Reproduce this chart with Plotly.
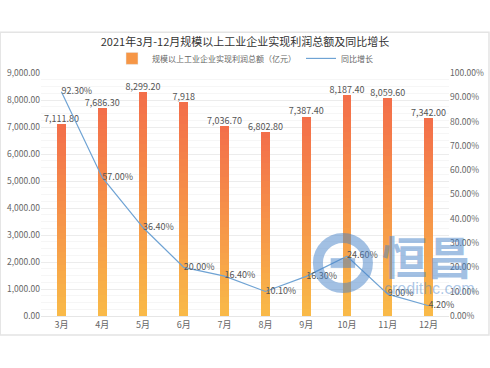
import plotly.graph_objects as go

months = ["3月", "4月", "5月", "6月", "7月", "8月", "9月", "10月", "11月", "12月"]
profit = [7111.80, 7686.30, 8299.20, 7918, 7036.70, 6802.80, 7387.40, 8187.40, 8059.60, 7342.00]
profit_labels = ["7,111.80", "7,686.30", "8,299.20", "7,918", "7,036.70", "6,802.80",
                 "7,387.40", "8,187.40", "8,059.60", "7,342.00"]
growth = [92.30, 57.00, 36.40, 20.00, 16.40, 10.10, 16.30, 24.60, 9.00, 4.20]
growth_labels = ["92.30%", "57.00%", "36.40%", "20.00%", "16.40%", "10.10%",
                 "16.30%", "24.60%", "9.00%", "4.20%"]

title = "2021年3月-12月规模以上工业企业实现利润总额及同比增长"
bar_name = "规模以上工业企业实现利润总额（亿元）"
line_name = "同比增长"

FONT = "Noto Sans CJK SC"
bottom_rgb = (249, 186, 72)
top_rgb = (243, 110, 74)
N = 30
WM = "rgba(70,130,200,0.5)"

fig = go.Figure()
for i in range(N):
    t = (i + 0.5) / N
    c = tuple(round(bottom_rgb[k] + (top_rgb[k] - bottom_rgb[k]) * t) for k in range(3))
    fig.add_trace(go.Bar(
        x=months, y=[v / N for v in profit],
        marker=dict(color="rgb(%d,%d,%d)" % c, line=dict(width=0)),
        showlegend=False, hoverinfo="skip",
    ))

# legend proxy for bars
fig.add_trace(go.Bar(x=[None], y=[None], name=bar_name,
                     marker=dict(color="rgb(246,150,70)"), showlegend=True))

# bar value labels
fig.add_trace(go.Scatter(
    x=months, y=profit, mode="text", text=profit_labels,
    textposition="top center", textfont=dict(size=9, color="#555", family=FONT),
    showlegend=False, hoverinfo="skip", cliponaxis=False,
))

fig.add_trace(go.Scatter(
    x=months, y=growth, yaxis="y2", name=line_name,
    mode="lines+text", text=growth_labels, textposition="middle right",
    textfont=dict(size=9, color="#555", family=FONT),
    line=dict(color="#6fa3d4", width=1.2), cliponaxis=False,
))

cx, cy = 0.740, 0.218
fig.update_layout(
    width=490, height=368,
    margin=dict(l=41, r=41, t=73, b=52, autoexpand=False),
    paper_bgcolor="white", plot_bgcolor="white",
    barmode="stack", bargap=0.78,
    font=dict(family=FONT, size=9, color="#666"),
    title=dict(text=title, x=0.5, xanchor="center", y=0.885, yanchor="middle",
               font=dict(size=11, color="#333", family=FONT)),
    legend=dict(orientation="h", x=0.5, xanchor="center", y=1.06, yanchor="middle",
                font=dict(size=8, color="#666", family=FONT), bgcolor="rgba(0,0,0,0)",
                itemwidth=30, traceorder="normal"),
    xaxis=dict(showgrid=False, showline=True, linecolor="#e6e6e6", ticks="",
               automargin=False, tickfont=dict(size=9, color="#666")),
    yaxis=dict(range=[0, 9000], dtick=1000, tickformat=",.2f", showgrid=True,
               gridcolor="#ececec", zeroline=False, ticks="", automargin=False,
               tickfont=dict(size=8.5, color="#666"),
               minor=dict(dtick=250, showgrid=True, gridcolor="#f6f6f6")),
    yaxis2=dict(range=[0, 100], dtick=10, overlaying="y", side="right",
                tickformat=".2f", ticksuffix="%", showgrid=False, zeroline=False,
                automargin=False, tickfont=dict(size=8.5, color="#666")),
    shapes=[
        dict(type="rect", xref="paper", yref="paper", x0=-0.1, x1=1.098,
             y0=-0.078, y1=1.168, line=dict(color="#e4e4e4", width=1.5),
             fillcolor="rgba(0,0,0,0)", layer="below"),
        dict(type="circle", xref="paper", yref="paper", x0=cx - 0.0613, x1=cx + 0.0613,
             y0=cy - 0.103, y1=cy + 0.103,
             line=dict(color=WM, width=10), layer="above"),
        dict(type="rect", xref="paper", yref="paper", x0=cx - 0.03, x1=cx + 0.03,
             y0=cy - 0.02, y1=cy + 0.02, line=dict(width=0), fillcolor=WM, layer="above"),
    ],
    annotations=[
        dict(text="<b>恒昌</b>", x=0.946, y=0.251, xref="paper", yref="paper", showarrow=False,
             xanchor="center", yanchor="middle",
             font=dict(size=45, color=WM, family=FONT)),
        dict(text="credithc.com", x=0.951, y=0.115, xref="paper", yref="paper",
             showarrow=False, xanchor="center", yanchor="middle",
             font=dict(size=16, color="rgba(70,130,200,0.45)", family="Liberation Sans")),
    ],
)

fig.write_html("out.html", config={"displayModeBar": False},
               post_script="document.body.style.margin='0';")
